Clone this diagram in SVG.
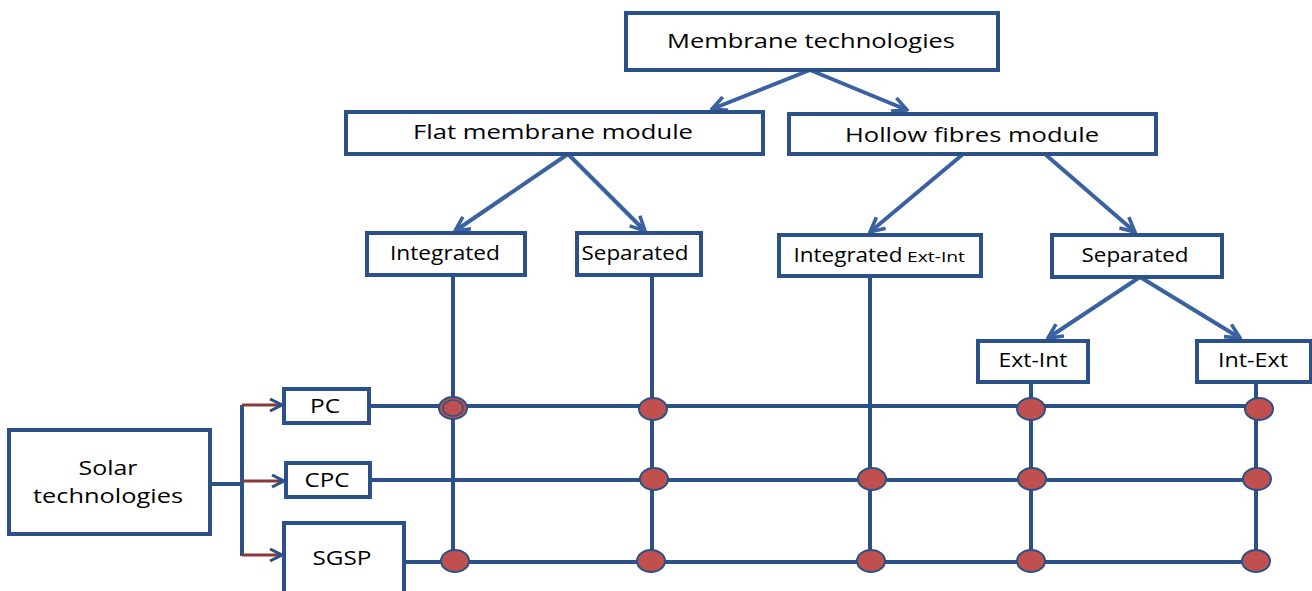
<svg xmlns="http://www.w3.org/2000/svg" width="1312" height="591" viewBox="0 0 1312 591">
<style>
.box{fill:#fff;stroke:#2C5088;stroke-width:4}
.t{font-family:"Open Sans","DejaVu Sans",sans-serif;font-size:20.5px;fill:#000;text-anchor:middle}
.ts{font-family:"Open Sans","DejaVu Sans",sans-serif;font-size:14px;fill:#000}
.ln{stroke:#2C5088;stroke-width:4;fill:none}
.ar{stroke:#3A62A0;stroke-width:4;fill:none;marker-end:url(#ah)}
.dot{fill:#C0504D;stroke:#2C5088;stroke-width:2}
</style>
<defs>
<marker id="ah" viewBox="0 0 10 10" refX="9" refY="5" markerWidth="4.5" markerHeight="4.5" orient="auto" markerUnits="strokeWidth">
<path d="M1,1 L9,5 L1,9" fill="none" stroke="#3A62A0" stroke-width="2"/>
</marker>
<marker id="rh" viewBox="0 0 10 10" refX="9" refY="5" markerWidth="5" markerHeight="5" orient="auto" markerUnits="strokeWidth">
<path d="M1,1 L9,5 L1,9" fill="none" stroke="#2C5088" stroke-width="2"/>
</marker>
</defs>
<g id="connectors">
<line class="ar" x1="810" y1="70" x2="712" y2="109"/>
<line class="ar" x1="810" y1="70" x2="907" y2="110"/>
<line class="ar" x1="568" y1="154" x2="455" y2="231"/>
<line class="ar" x1="568" y1="154" x2="645" y2="231"/>
<line class="ar" x1="962" y1="155" x2="870" y2="232"/>
<line class="ar" x1="1046" y1="155" x2="1135" y2="232"/>
<line class="ar" x1="1140" y1="277" x2="1048" y2="338"/>
<line class="ar" x1="1140" y1="277" x2="1240" y2="338"/>
<line class="ln" x1="210" y1="484" x2="242" y2="484"/>
<line class="ln" x1="242" y1="405" x2="242" y2="556"/>
<g stroke="#8B3A3A" stroke-width="3" fill="none">
<line x1="242" y1="405" x2="282" y2="405" marker-end="url(#rh)"/>
<line x1="242" y1="481" x2="284" y2="481" marker-end="url(#rh)"/>
<line x1="242" y1="555" x2="282" y2="555" marker-end="url(#rh)"/>
</g>
<line class="ln" x1="369" y1="406" x2="1260" y2="406"/>
<line class="ln" x1="370" y1="480" x2="1268" y2="480"/>
<line class="ln" x1="404" y1="562" x2="1260" y2="562"/>
<line class="ln" x1="453" y1="275" x2="453" y2="562"/>
<line class="ln" x1="652" y1="275" x2="652" y2="562"/>
<line class="ln" x1="870" y1="276" x2="870" y2="562"/>
<line class="ln" x1="1031" y1="382" x2="1031" y2="562"/>
<line class="ln" x1="1256" y1="382" x2="1256" y2="562"/>
</g>
<g id="dots">
<ellipse class="dot" cx="453" cy="408" rx="14" ry="11"/>
<ellipse cx="453" cy="408" rx="10" ry="8" fill="none" stroke="#2C5088" stroke-width="1.5"/>
<ellipse class="dot" cx="653" cy="409" rx="14" ry="11"/>
<ellipse class="dot" cx="1031" cy="409" rx="14" ry="11"/>
<ellipse class="dot" cx="1259" cy="409" rx="14" ry="11"/>
<ellipse class="dot" cx="654" cy="479" rx="14" ry="11"/>
<ellipse class="dot" cx="872" cy="479" rx="14" ry="11"/>
<ellipse class="dot" cx="1032" cy="479" rx="14" ry="11"/>
<ellipse class="dot" cx="1257" cy="479" rx="14" ry="11"/>
<ellipse class="dot" cx="455" cy="561" rx="14" ry="11"/>
<ellipse class="dot" cx="651" cy="561" rx="14" ry="11"/>
<ellipse class="dot" cx="871" cy="561" rx="14" ry="11"/>
<ellipse class="dot" cx="1031" cy="561" rx="14" ry="11"/>
<ellipse class="dot" cx="1256" cy="561" rx="14" ry="11"/>
</g>
<g id="membrane"><rect class="box" x="626" y="13" width="372" height="57"/><text class="t" x="811" y="48" textLength="288" lengthAdjust="spacingAndGlyphs">Membrane technologies</text></g>
<g id="flat"><rect class="box" x="346" y="112" width="417" height="42"/><text class="t" x="553" y="139" textLength="280" lengthAdjust="spacingAndGlyphs">Flat membrane module</text></g>
<g id="hollow"><rect class="box" x="789" y="114" width="367" height="40"/><text class="t" x="972" y="142" textLength="254" lengthAdjust="spacingAndGlyphs">Hollow fibres module</text></g>
<g id="integrated1"><rect class="box" x="367" y="233" width="158" height="42"/><text class="t" x="445" y="260" textLength="110" lengthAdjust="spacingAndGlyphs">Integrated</text></g>
<g id="separated1"><rect class="box" x="577" y="233" width="124" height="42"/><text class="t" x="635" y="260" textLength="107" lengthAdjust="spacingAndGlyphs">Separated</text></g>
<g id="integrated2"><rect class="box" x="779" y="235" width="202" height="41"/><text class="t" x="848" y="262" textLength="109" lengthAdjust="spacingAndGlyphs">Integrated</text><text class="ts" x="907" y="262" textLength="58" lengthAdjust="spacingAndGlyphs">Ext-Int</text></g>
<g id="separated2"><rect class="box" x="1052" y="235" width="170" height="42"/><text class="t" x="1135" y="262" textLength="107" lengthAdjust="spacingAndGlyphs">Separated</text></g>
<g id="extint"><rect class="box" x="978" y="341" width="110" height="41"/><text class="t" x="1033" y="367" textLength="69" lengthAdjust="spacingAndGlyphs">Ext-Int</text></g>
<g id="intext"><rect class="box" x="1197" y="341" width="114" height="41"/><text class="t" x="1253" y="367" textLength="70" lengthAdjust="spacingAndGlyphs">Int-Ext</text></g>
<g id="solar"><rect class="box" x="9" y="430" width="201" height="104"/><text class="t" x="108" y="475" textLength="59" lengthAdjust="spacingAndGlyphs">Solar</text><text class="t" x="108" y="503" textLength="150" lengthAdjust="spacingAndGlyphs">technologies</text></g>
<g id="pc"><rect class="box" x="284" y="389" width="85" height="34"/><text class="t" x="325" y="413" textLength="30" lengthAdjust="spacingAndGlyphs">PC</text></g>
<g id="cpc"><rect class="box" x="286" y="463" width="84" height="34"/><text class="t" x="327" y="487" textLength="45" lengthAdjust="spacingAndGlyphs">CPC</text></g>
<g id="sgsp"><rect class="box" x="284" y="523" width="120" height="75"/><text class="t" x="342" y="565" textLength="59" lengthAdjust="spacingAndGlyphs">SGSP</text></g>
</svg>
